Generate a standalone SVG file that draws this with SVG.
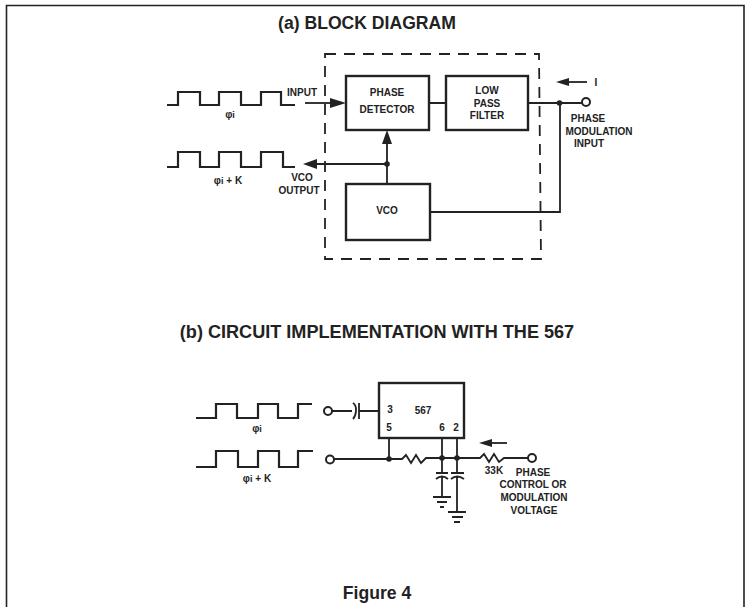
<svg xmlns="http://www.w3.org/2000/svg" width="745" height="607" viewBox="0 0 745 607">
<style>
.t{font-family:"Liberation Sans",Arial,sans-serif;font-weight:bold;fill:#222;text-anchor:middle}
.h{font-size:17.6px}
.s{font-size:10px}
.w{fill:none;stroke:#222;stroke-width:1.8}
.wave{fill:none;stroke:#222;stroke-width:2.2}
.b{fill:#fff;stroke:#222;stroke-width:2.4}
.d{fill:#222}
.o{fill:#fff;stroke:#222;stroke-width:2}
</style>
<rect width="745" height="607" fill="#fff"/>
<path d="M6.5 607V5.5H744V607" fill="none" stroke="#222" stroke-width="1.6"/>
<text class="t h" x="367" y="29">(a) BLOCK DIAGRAM</text>
<text class="t h" x="377" y="338" style="font-size:18.1px">(b) CIRCUIT IMPLEMENTATION WITH THE 567</text>
<text class="t h" x="377" y="599">Figure 4</text>
<g id="boundary"><path d="M325 54H539L541 259H325Z" fill="none" stroke="#222" stroke-width="1.8" stroke-dasharray="11 8"/></g>
<g id="connectors">
<path class="w" d="M305 103H335"/><path class="d" d="M346 103L330 98V108Z"/>
<path class="w" d="M429 103H446M528 103H582M430 212H560V103"/>
<path class="w" d="M387 184V140M312 164H387"/>
<path class="d" d="M387 130L382 144H392Z"/><path class="d" d="M303 164L317 159V169Z"/>
<circle class="d" cx="387" cy="164" r="2.8"/><circle class="d" cx="559.500" cy="103" r="2.8"/>
<path class="w" d="M565 82H587"/><path class="d" d="M556 82L569 78V86Z"/>
<path class="w" d="M332 411H352M359 411H379"/>
<path class="w" d="M353 403C358 406 356 416 353 419M359 403V419"/>
<path class="w" d="M334 459H402L406 455L411 463L416 455L421 463L426 458H480L484 454L489 462L494 454L499 462L504 458H528M389 438V459M442 438V473M457 438V473"/>
<circle class="d" cx="389" cy="459" r="2.8"/><circle class="d" cx="442" cy="458" r="2.8"/><circle class="d" cx="457" cy="458" r="2.8"/>
<path class="w" d="M442 477V497M457 477V512M436 473H448M436 479Q442 474 448 479M451 473H464M451 479Q457 474 464 479"/>
<path class="w" d="M433 497H451M437 502H447M440 507H444M448 512H466M452 517H463M454 522H460"/>
<path class="w" d="M490 443H507"/><path class="d" d="M479 443L492 439V447Z"/>
</g>
<g id="wave-a1"><path class="wave" d="M167 105H178V92H200V105H219V92H241V105H261V92H281V105H295"/><text class="t s" x="230" y="118">φ<tspan font-size="9">i</tspan></text></g>
<g id="wave-a2"><path class="wave" d="M167 167H178V152H200V167H219V152H241V167H261V152H283V167H295"/><text class="t s" x="228" y="184">φ<tspan font-size="9">i</tspan> + K</text></g>
<g id="wave-b1"><path class="wave" d="M196 418H216V404H237V418H258V404H278V418H298V404H312"/><text class="t s" x="257" y="432">φ<tspan font-size="9">i</tspan></text></g>
<g id="wave-b2"><path class="wave" d="M196 467H216V451H238V467H258V451H279V467H298V451H313"/><text class="t s" x="257" y="482">φ<tspan font-size="9">i</tspan> + K</text></g>
<g id="phase-detector"><rect class="b" x="346" y="76" width="83" height="54"/><text class="t s" x="387" y="96">PHASE</text><text class="t s" x="387" y="113">DETECTOR</text></g>
<g id="low-pass-filter"><rect class="b" x="446" y="76" width="82" height="54"/><text class="t s" x="487" y="94">LOW</text><text class="t s" x="487" y="107">PASS</text><text class="t s" x="487" y="119">FILTER</text></g>
<g id="vco"><rect class="b" x="346" y="184" width="84" height="56"/><text class="t s" x="387" y="214">VCO</text></g>
<g id="labels-a"><text class="t s" x="302" y="96">INPUT</text><text class="t s" x="302" y="181">VCO</text><text class="t s" x="299" y="194">OUTPUT</text><text class="t s" x="596" y="86">I</text><text class="t s" x="588" y="122">PHASE</text><text class="t s" x="599" y="135">MODULATION</text><text class="t s" x="589" y="147">INPUT</text></g>
<g id="input-terminal"><circle class="o" cx="586" cy="102" r="4"/></g>
<g id="chip-567"><rect class="b" x="379" y="383" width="85" height="55"/><text class="t s" x="390" y="413">3</text><text class="t s" x="423" y="414">567</text><text class="t s" x="389" y="431">5</text><text class="t s" x="442" y="431">6</text><text class="t s" x="456" y="431">2</text></g>
<g id="terminal-b1"><circle class="o" cx="328" cy="411" r="4"/></g>
<g id="terminal-b2"><circle class="o" cx="330" cy="459.500" r="4"/></g>
<g id="terminal-b3"><circle class="o" cx="532" cy="458" r="4"/></g>
<g id="labels-b"><text class="t s" x="494" y="474">33K</text><text class="t s" x="533" y="476">PHASE</text><text class="t s" x="533" y="488">CONTROL OR</text><text class="t s" x="534" y="501">MODULATION</text><text class="t s" x="534" y="514">VOLTAGE</text></g>
</svg>
